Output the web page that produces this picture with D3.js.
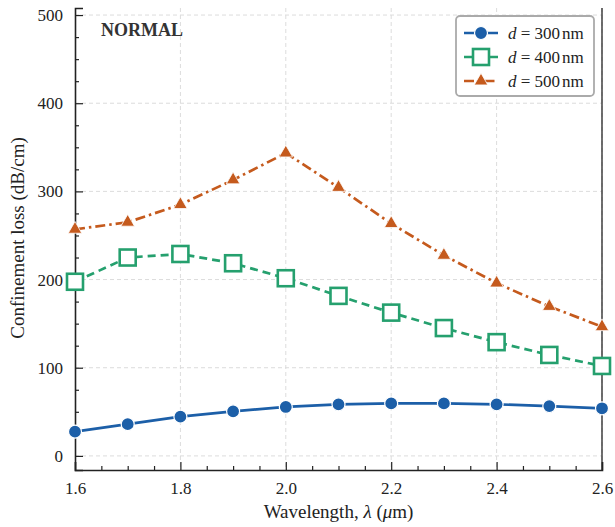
<!DOCTYPE html>
<html>
<head>
<meta charset="utf-8">
<script src="https://cdn.jsdelivr.net/npm/d3@7"></script>
<style>
  body { margin: 0; background: #fff; }
  svg text { font-family: "Liberation Serif", "Times New Roman", Times, serif !important; }
</style>
</head>
<body>
<div id="chart"></div>
<script>
// --------------------------------------
//  Data
// --------------------------------------

const wavelengths = [1.6, 1.7, 1.8, 1.9, 2.0, 2.1, 2.2, 2.3, 2.4, 2.5, 2.6];
const loss300 = [27.5, 36, 44.5, 50.5, 55.5, 58.5, 59.5, 59.5, 58.5, 56.5, 54];
const loss400 = [197.5, 225, 229, 218.5, 201.5, 181.5, 162.5, 145, 129, 114.5, 102];
const loss500 = [257, 265, 285, 313, 343.5, 304.5, 263.5, 227.5, 196, 169.5, 146.5];
const seriesNames = ["300", "400", "500"];
const xTicks = [1.6, 1.8, 2.0, 2.2, 2.4, 2.6];
const yTicks = [0, 100, 200, 300, 400, 500];

// --------------------------------------
//  Margin and canvas
// --------------------------------------

const width = 615;
const height = 527;
const margin = {top: 8, right: 13, bottom: 57, left: 75};
const innerwidth = width - margin.left - margin.right;
const innerheight = height - margin.top - margin.bottom;
const serif = "'Liberation Serif', 'Times New Roman', Times, serif";

const svg = d3.select("#chart")
  .append("svg")
    .attr("width", width)
    .attr("height", height)
    .attr("font-family", serif);

const innerChart = svg.append("g")
    .attr("transform", `translate(${margin.left}, ${margin.top})`);

// --------------------------------------
//  Scales
// --------------------------------------

const x = d3.scaleLinear()
    .domain([1.6, 2.6])
    .range([0, innerwidth]);

const y = d3.scaleLinear()
    .domain([-16, 508])
    .range([innerheight, 0]);

// --------------------------------------
//  Grid
// --------------------------------------

const grid = innerChart.append("g")
    .attr("stroke", "#dcdcdc")
    .attr("stroke-width", 1)
    .attr("stroke-dasharray", "4,3");

grid.selectAll(".gx")
  .data(xTicks.slice(1))
  .join("line")
    .attr("x1", d => x(d)).attr("x2", d => x(d))
    .attr("y1", 0).attr("y2", innerheight);

grid.selectAll(".gy")
  .data(yTicks)
  .join("line")
    .attr("x1", 0).attr("x2", innerwidth)
    .attr("y1", d => y(d)).attr("y2", d => y(d));

// --------------------------------------
//  Axes
// --------------------------------------

const fmtX = d3.format(".1f");

innerChart.append("g")
    .attr("transform", `translate(0, ${innerheight})`)
    .call(d3.axisBottom(x)
        .tickValues(xTicks)
        .tickSize(-8)
        .tickFormat(fmtX)
        .tickPadding(12));

innerChart.append("g")
    .attr("transform", `translate(0, ${innerheight})`)
    .call(d3.axisBottom(x)
        .tickValues(d3.range(1.65, 2.6, 0.05).filter(v => Math.abs(v * 5 - Math.round(v * 5)) > 0.01))
        .tickSize(-4)
        .tickFormat(""))
    .call(g => g.select(".domain").remove());

innerChart.append("g")
    .call(d3.axisLeft(y)
        .tickValues(yTicks)
        .tickSize(-8)
        .tickPadding(12));

innerChart.append("g")
    .call(d3.axisLeft(y)
        .tickValues(d3.range(25, 500, 25).filter(v => v % 100 !== 0))
        .tickSize(-4)
        .tickFormat(""))
    .call(g => g.select(".domain").remove());

// right spine
innerChart.append("line")
    .attr("x1", innerwidth).attr("x2", innerwidth)
    .attr("y1", 0).attr("y2", innerheight)
    .attr("stroke", "#222").attr("stroke-width", 1.3);

innerChart.selectAll(".domain")
    .attr("stroke", "#222")
    .attr("stroke-width", 1.6);
innerChart.selectAll(".tick line")
    .attr("stroke", "#222")
    .attr("stroke-width", 1.2);
innerChart.selectAll("g[font-family]").attr("font-family", serif);
innerChart.selectAll(".tick text")
    .attr("font-size", 17)
    .attr("fill", "#222");

// axis labels
svg.append("text")
    .attr("x", margin.left + innerwidth / 2)
    .attr("y", 518)
    .attr("text-anchor", "middle")
    .attr("font-size", 19)
    .attr("fill", "#222")
    .html('Wavelength, <tspan font-style="italic">λ</tspan> (<tspan font-style="italic">μ</tspan>m)');

svg.append("text")
    .attr("transform", "translate(24, 238) rotate(-90)")
    .attr("text-anchor", "middle")
    .attr("font-size", 19)
    .attr("fill", "#222")
    .text("Confinement loss (dB/cm)");

svg.append("text")
    .attr("x", 101)
    .attr("y", 36)
    .attr("font-size", 18)
    .attr("font-weight", "bold")
    .attr("fill", "#333")
    .text("NORMAL");

// --------------------------------------
//  Data drawing
// --------------------------------------

const series = [
  {name: seriesNames[0], values: loss300, color: "#1c5fa8", dash: null, marker: "circle"},
  {name: seriesNames[1], values: loss400, color: "#25a06e", dash: "8,5", marker: "square"},
  {name: seriesNames[2], values: loss500, color: "#c55a1d", dash: "10,4,2.5,4", marker: "triangle"}
];

const line = d3.line()
    .x((d, i) => x(wavelengths[i]))
    .y(d => y(d));

function drawMarker(g, s, cx, cy, scale) {
  if (s.marker === "circle") {
    g.append("circle")
      .attr("cx", cx).attr("cy", cy).attr("r", 6.5 * scale)
      .attr("fill", s.color).attr("stroke", "#fff").attr("stroke-width", 1.2);
  } else if (s.marker === "square") {
    const h = 8 * scale;
    g.append("rect")
      .attr("x", cx - h).attr("y", cy - h)
      .attr("width", 2 * h).attr("height", 2 * h)
      .attr("fill", "#fff").attr("stroke", s.color).attr("stroke-width", 2.6);
  } else {
    g.append("path")
      .attr("d", d3.symbol(d3.symbolTriangle, 80 * scale * scale)())
      .attr("transform", `translate(${cx}, ${cy})`)
      .attr("fill", s.color).attr("stroke", "#fff").attr("stroke-width", 0.8);
  }
}

const plot = innerChart.append("g");

series.forEach(s => {
  plot.append("path")
    .datum(s.values)
    .attr("fill", "none")
    .attr("stroke", s.color)
    .attr("stroke-width", 2.7)
    .attr("stroke-dasharray", s.dash)
    .attr("d", line);
  const mg = plot.append("g");
  s.values.forEach((v, i) => drawMarker(mg, s, x(wavelengths[i]), y(v), 1));
});

// --------------------------------------
//  Legend
// --------------------------------------

const legend = svg.append("g")
    .attr("transform", "translate(456, 16)");

legend.append("rect")
    .attr("width", 138).attr("height", 80)
    .attr("rx", 4)
    .attr("fill", "#fff")
    .attr("stroke", "#aaa")
    .attr("stroke-width", 1.8);

series.forEach((s, i) => {
  const ly = 17 + i * 24;
  legend.append("line")
    .attr("x1", 8).attr("x2", 42)
    .attr("y1", ly).attr("y2", ly)
    .attr("stroke", s.color)
    .attr("stroke-width", 2.7)
    .attr("stroke-dasharray", s.dash);
  drawMarker(legend, s, 25, ly, 1);
  const t = legend.append("text")
    .attr("x", 52)
    .attr("y", ly + 5.5)
    .attr("font-size", 17)
    .attr("fill", "#222");
  t.append("tspan").attr("font-style", "italic").text("d");
  t.append("tspan").text(" = " + s.name);
  t.append("tspan").attr("dx", 2).text("nm");
});
</script>
</body>
</html>
